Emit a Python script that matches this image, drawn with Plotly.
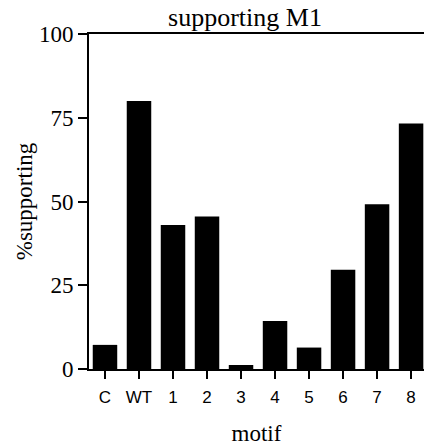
import plotly.graph_objects as go

categories = ["C", "WT", "1", "2", "3", "4", "5", "6", "7", "8"]
values = [7.2, 80.0, 43.0, 45.5, 1.2, 14.3, 6.4, 29.6, 49.2, 73.3]
y_ticks = [0, 25, 50, 75, 100]

serif = "Liberation Serif, Times New Roman, serif"
sans = "Liberation Sans, Arial, sans-serif"

fig = go.Figure(go.Bar(x=categories, y=values, marker=dict(color="black", line=dict(width=0))))

fig.update_layout(
    width=424, height=446,
    margin=dict(l=89, r=0, t=34, b=77),
    plot_bgcolor="white", paper_bgcolor="white",
    bargap=0.28,
    showlegend=False,
    title=dict(text="supporting M1", x=245/424, xanchor="center", y=1-17/446, yanchor="middle",
               font=dict(family=serif, size=26, color="black")),
)
fig.update_xaxes(
    type="category", range=[-0.47, 9.38],
    showline=True, linecolor="black", linewidth=2, mirror=True,
    ticks="outside", ticklen=8, tickwidth=2, tickcolor="black",
    tickfont=dict(family=sans, size=17, color="black"),
    ticklabelstandoff=4,
    showgrid=False,
    title=dict(text="motif", font=dict(family=serif, size=23, color="black"), standoff=18),
)
fig.update_yaxes(
    range=[0, 100], tickvals=y_ticks,
    showline=True, linecolor="black", linewidth=2,
    ticks="outside", ticklen=9, tickwidth=2, tickcolor="black",
    tickfont=dict(family=serif, size=23, color="black"),
    showgrid=False, zeroline=False,
    title=dict(text="%supporting", font=dict(family=serif, size=23, color="black"), standoff=0),
)

fig.write_html("out.html", config={"displayModeBar": False},
               post_script="document.body.style.margin='0px';document.body.style.overflow='hidden';")
